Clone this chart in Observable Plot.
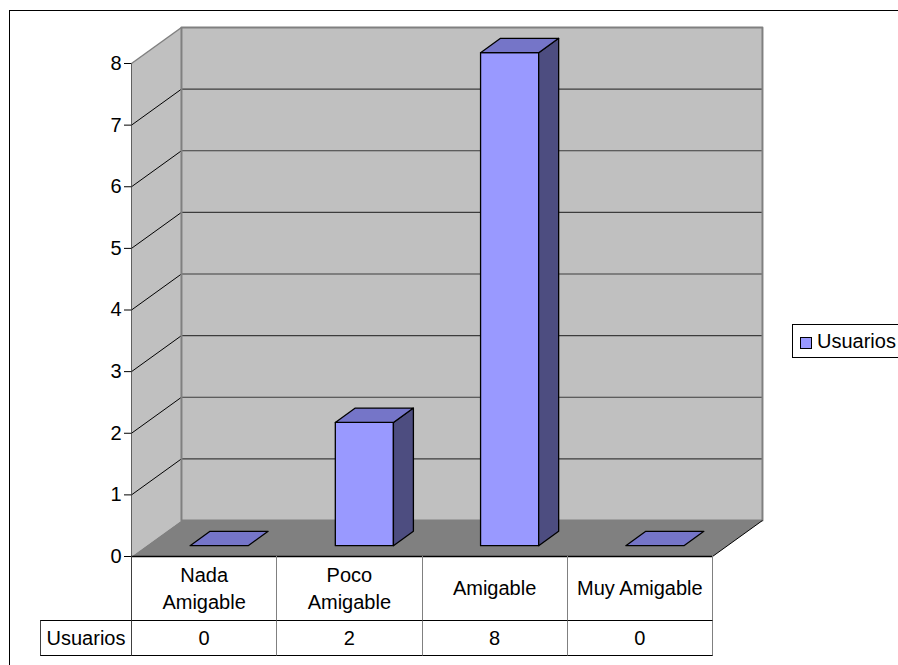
<!DOCTYPE html>
<html>
<head>
<meta charset="utf-8">
<script src="https://cdn.jsdelivr.net/npm/d3@7"></script>
<script src="https://cdn.jsdelivr.net/npm/@observablehq/plot@0.6"></script>
<style>
  body { margin: 0; background: #fff; }
  #chart { position: relative; width: 898px; height: 665px; overflow: hidden; background: #fff;
           font-family: "Liberation Sans", Arial, sans-serif; color: #000; }
  #chart svg { position: absolute; left: 0; top: 0; }
  .frame { position: absolute; left: 9px; top: 10px; width: 1000px; height: 1000px;
           border: 1px solid #000; box-sizing: border-box; pointer-events: none; }
  .cell { position: absolute; box-sizing: border-box; display: flex; align-items: center;
          justify-content: center; text-align: center; font-size: 20px; line-height: 27px; white-space: pre; }
  .legend { position: absolute; left: 792px; top: 324px; width: 130px; height: 34px;
            border: 1px solid #000; box-sizing: border-box; background: #fff; font-size: 20px; }
  .legend .swatch { position: absolute; left: 7px; top: 12px; width: 12px; height: 12px;
                    border: 1px solid #000; box-sizing: border-box; }
  .legend .label { position: absolute; left: 24px; top: 5px; line-height: 22px; }
</style>
</head>
<body>
<div id="chart"></div>
<script>
// Survey results: how friendly users found the application
const categories = ["Nada Amigable", "Poco Amigable", "Amigable", "Muy Amigable"];
const categoryLabels = ["Nada\nAmigable", "Poco\nAmigable", "Amigable", "Muy Amigable"];
const seriesName = "Usuarios";
const usuarios = [0, 2, 8, 0];
const yMax = 8;

// Colours of the 3-D column faces and the chart walls
const colors = { front: "#9999ff", top: "#7575c8", side: "#4d4d80", wall: "#c0c0c0", floor: "#808080" };

// Oblique projection of the depth axis (z from 0 = front to 1 = back), in data units
const depth = { x: 0.344, y: 0.584 };
const bar = { x0: 0.3, x1: 0.7, z0: 0.3, z1: 0.7 };

const project = (id, corners) =>
  corners.map(([c, v, z]) => ({ id, x: c + z * depth.x, y: v + z * depth.y }));

const n = categories.length;
const sideWall = project("side", [[0, 0, 0], [0, yMax, 0], [0, yMax, 1], [0, 0, 1]]);
const backWall = project("back", [[0, 0, 1], [n, 0, 1], [n, yMax, 1], [0, yMax, 1]]);
const floor = project("floor", [[0, 0, 0], [n, 0, 0], [n, 0, 1], [0, 0, 1]]);

const fronts = [], tops = [], sides = [];
usuarios.forEach((v, i) => {
  const a = i + bar.x0, b = i + bar.x1;
  tops.push(...project(i, [[a, v, bar.z0], [b, v, bar.z0], [b, v, bar.z1], [a, v, bar.z1]]));
  if (v > 0) {
    fronts.push(...project(i, [[a, 0, bar.z0], [b, 0, bar.z0], [b, v, bar.z0], [a, v, bar.z0]]));
    sides.push(...project(i, [[b, 0, bar.z0], [b, 0, bar.z1], [b, v, bar.z1], [b, v, bar.z0]]));
  }
});

const gridValues = d3.range(1, yMax);
const face = (data, fill, stroke = "none", strokeWidth = 1) =>
  Plot.line(data, { x: "x", y: "y", z: "id", fill, stroke, strokeWidth, curve: "linear-closed" });

const plot = Plot.plot({
  width: 898,
  height: 665,
  marginLeft: 131,
  marginRight: 186,
  marginTop: 63,
  marginBottom: 109,
  style: { fontFamily: "Liberation Sans, Arial, sans-serif", fontSize: "20px", color: "#000", background: "transparent" },
  x: { domain: [0, n], axis: null },
  y: { domain: [0, yMax], ticks: yMax, tickSize: 7, tickPadding: 3, label: null, line: true },
  marks: [
    face(sideWall, colors.wall),
    face(backWall, colors.wall),
    face(floor, colors.floor),
    // gridlines on the back wall and the matching diagonals on the side wall
    Plot.link(gridValues, { x1: depth.x, x2: n + depth.x, y1: d => d + depth.y, y2: d => d + depth.y, stroke: "#3c3c3c", strokeWidth: 1.2 }),
    Plot.link(gridValues, { x1: 0, x2: depth.x, y1: d => d, y2: d => d + depth.y, stroke: "#000", strokeWidth: 1 }),
    // wall outlines
    face(backWall, "none", "#808080", 2),
    Plot.link([yMax], { x1: 0, x2: depth.x, y1: d => d, y2: d => d + depth.y, stroke: "#808080", strokeWidth: 1.5 }),
    Plot.link([0], { x1: n, x2: n + depth.x, y1: 0, y2: depth.y, stroke: "#000", strokeWidth: 1 }),
    Plot.ruleY([0], { x1: 0, x2: n, stroke: "#000", strokeWidth: 1.5 }),
    // columns
    face(fronts, colors.front, "#000", 1.3),
    face(sides, colors.side, "#000", 1.3),
    face(tops, colors.top, "#000", 1.3)
  ]
});

const chart = document.getElementById("chart");
chart.appendChild(plot);

// Data table under the category axis, aligned with the x scale
const x = plot.scale("x").apply;
const y0 = plot.scale("y").apply(0);
const headerH = 64, rowH = 35, rowHeaderLeft = 40;

function cell(left, top, width, height, text, borders) {
  const d = document.createElement("div");
  d.className = "cell";
  Object.assign(d.style, { left: left + "px", top: top + "px", width: width + "px", height: height + "px" }, borders);
  d.textContent = text;
  chart.appendChild(d);
}
const vLine = "1px solid #808080", hLine = "1px solid #000";
categories.forEach((c, i) => {
  const left = x(i), w = x(i + 1) - x(i);
  cell(left, y0, w + 1, headerH + 1, categoryLabels[i],
       { borderLeft: i === 0 ? "1px solid #404040" : vLine, borderRight: vLine });
  cell(left, y0 + headerH, w + 1, rowH + 1, String(usuarios[i]),
       { borderLeft: i === 0 ? "1px solid #404040" : vLine, borderRight: vLine, borderTop: hLine, borderBottom: hLine });
});
cell(rowHeaderLeft, y0 + headerH, x(0) - rowHeaderLeft + 1, rowH + 1, seriesName,
     { border: "1px solid #404040", borderTop: hLine, borderBottom: hLine });

// Legend
const legend = document.createElement("div");
legend.className = "legend";
legend.innerHTML = `<div class="swatch" style="background:${colors.front}"></div><div class="label"></div>`;
legend.querySelector(".label").textContent = seriesName;
chart.appendChild(legend);

// Outer chart-area border
const frame = document.createElement("div");
frame.className = "frame";
chart.appendChild(frame);
</script>
</body>
</html>
